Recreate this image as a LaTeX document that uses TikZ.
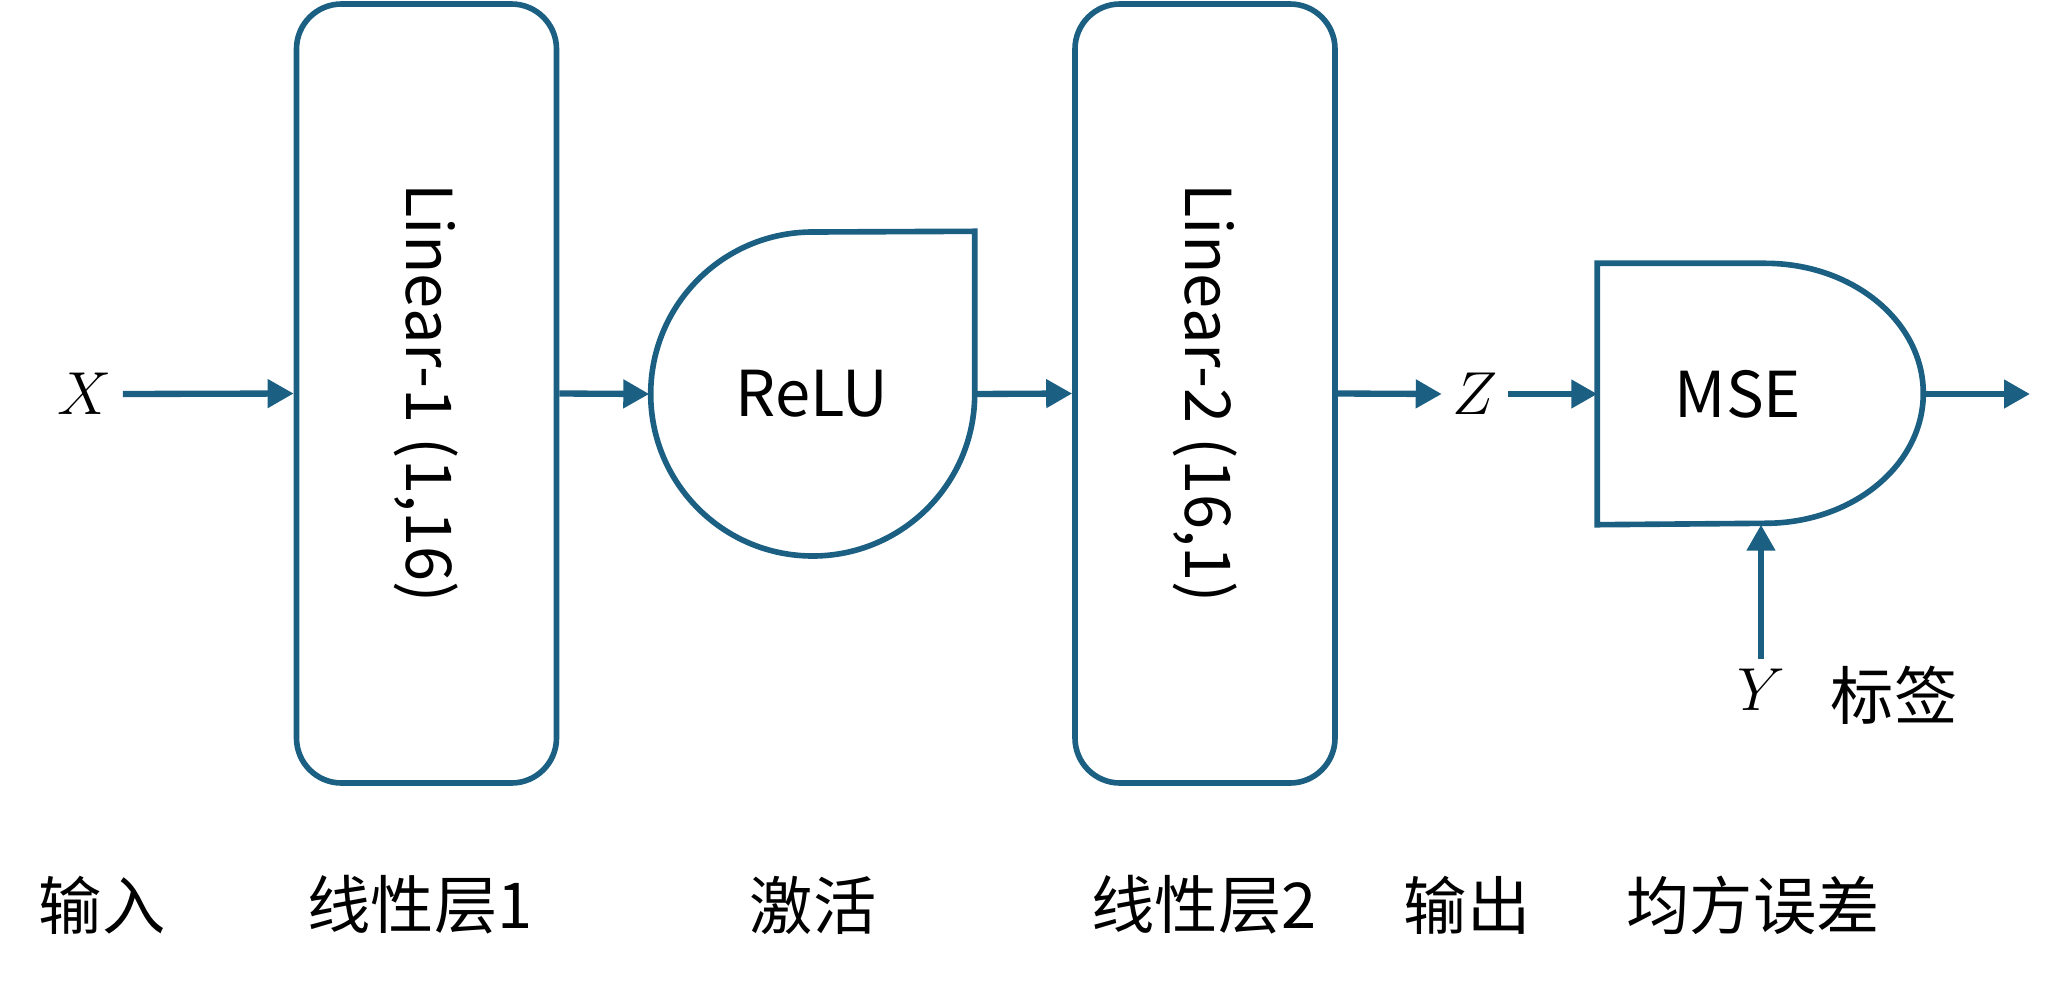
\documentclass[tikz,border=0pt]{standalone}
\usepackage{fontspec}
\setmainfont{Noto Sans CJK SC}
\usepackage{amsmath}
\usetikzlibrary{arrows.meta}
\definecolor{netblue}{HTML}{1B5F83}

\begin{document}
\begin{tikzpicture}[
        line/.style={draw=netblue, line width=1.6pt},
        arr/.style={netblue, line width=1.8pt, -{Triangle[length=7.4pt, width=7.8pt]}},
        layer/.style={line, rounded corners=0.45cm, minimum width=2.6cm, minimum height=7.79cm, inner sep=0pt},
        var/.style={inner sep=1mm, font=\fontsize{18}{22}\selectfont},
        lbl/.style={font=\fontsize{18}{22}\selectfont}
    ]
        \useasboundingbox (0, 0) rectangle (20.57, 9.80);
        % layers
        \node[layer, lbl] (L1) at (4.265, 5.865) {\rotatebox{-90}{Linear-1 (1,16)}};
        \node[layer, lbl] (L2) at (12.05, 5.865) {\rotatebox{-90}{Linear-2 (16,1)}};
        \node[circle, minimum size=3.24cm, inner sep=0pt, lbl] (R) at (8.12, 5.86) {ReLU};
        \draw[line] (R.east) arc[start angle=0, end angle=-270, radius=1.62cm] -- (R.north -| R.east) -- cycle;
        \node[minimum width=3.26cm, minimum height=2.6cm, inner sep=0pt] (M) at (17.61, 5.86) {};
        \draw[line] (M.north west) -- ++(1.68, 0) arc[start angle=90, end angle=-90, x radius=1.58cm, y radius=1.3cm] -- (M.south west) -- cycle;
        \node[lbl] (Mt) at (17.38, 5.86) {MSE};
        % variables
        \node[var] (X) at (0.85, 5.86) {$X$};
        \node[var] (Z) at (14.75, 5.86) {$Z$};
        \node[var] (Y) at (17.61, 2.90) {$Y$};
        \node[lbl] (tag) at (18.94, 2.85) {标签};
        \coordinate (out) at (20.30, 5.86);
        \draw[arr] (X.east) -- (L1.west);
        \draw[arr] (L1.east) -- (R.west);
        \draw[arr] (R.east) -- (L2.west);
        \draw[arr] (L2.east) -- (Z.west);
        \draw[arr] (Z.east) -- (M.west);
        \draw[arr] (M.east) -- (out);
        \draw[arr] (Y.north) -- (M.south);
        % captions
        \node[lbl] (cin) at (1.02, 0.75) {输入};
        \node[lbl] (cl1) at (4.20, 0.75) {线性层1};
        \node[lbl] (cact) at (8.13, 0.75) {激活};
        \node[lbl] (cl2) at (12.04, 0.75) {线性层2};
        \node[lbl] (cout) at (14.67, 0.75) {输出};
        \node[lbl] (cmse) at (17.53, 0.75) {均方误差};
    \end{tikzpicture}
\end{document}
